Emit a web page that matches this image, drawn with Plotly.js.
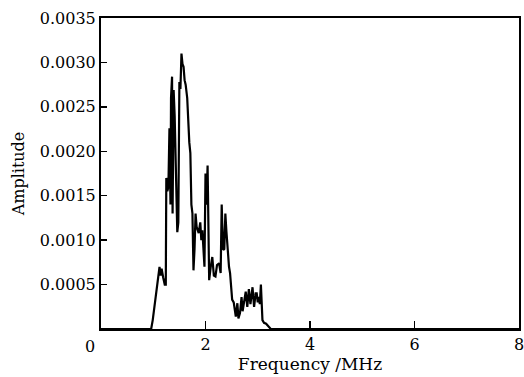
<!DOCTYPE html>
<html><head><meta charset="utf-8">
<script src="https://cdn.plot.ly/plotly-3.0.1.min.js"></script>
<style>html,body{margin:0;padding:0;background:#fff;}#chart{width:524px;height:377px;}</style>
</head><body><div id="chart"></div>
<script>
const freq = [0,0.96,0.99,1.03,1.07,1.10,1.12,1.14,1.16,1.19,1.22,1.24,1.25,1.27,1.29,1.31,1.33,1.34,1.36,1.37,1.39,1.41,1.44,1.46,1.48,1.50,1.52,1.54,1.56,1.58,1.60,1.62,1.65,1.67,1.69,1.71,1.73,1.75,1.77,1.79,1.81,1.83,1.85,1.87,1.90,1.92,1.94,1.96,1.98,2.00,2.02,2.04,2.06,2.07,2.10,2.13,2.16,2.19,2.22,2.26,2.29,2.31,2.32,2.34,2.36,2.38,2.40,2.42,2.45,2.47,2.51,2.54,2.58,2.61,2.63,2.66,2.69,2.71,2.74,2.77,2.80,2.83,2.86,2.90,2.93,2.96,2.98,3.00,3.02,3.04,3.06,3.08,3.09,3.12,3.16,3.19,3.22,3.25,8];
const amplitude = [0,0,0.0001,0.00028,0.00042,0.00055,0.0007,0.0006,0.00068,0.00058,0.0005,0.0005,0.0017,0.00155,0.0016,0.00226,0.0014,0.0026,0.00284,0.0013,0.00269,0.0024,0.0014,0.00109,0.0012,0.00278,0.0027,0.0031,0.00298,0.00295,0.0028,0.00275,0.0026,0.0023,0.0021,0.00198,0.0014,0.0013,0.00066,0.0009,0.0013,0.00115,0.0011,0.00108,0.0012,0.0010,0.00111,0.00085,0.0007,0.00175,0.0014,0.00184,0.0009,0.00055,0.0007,0.00081,0.0006,0.00059,0.00072,0.00074,0.00063,0.0014,0.0012,0.00089,0.0009,0.0013,0.0011,0.00089,0.0007,0.00063,0.00033,0.0003,0.00014,0.00029,0.00012,0.00018,0.00036,0.0002,0.00029,0.00042,0.00025,0.00045,0.00028,0.00047,0.00025,0.0004,0.0004,0.0003,0.00036,0.00028,0.0005,0.0003,0.0001,0.00007,0.00006,0.00004,0.00002,0,0];
const xTickVals = [2,4,6,8];
const xTickText = ["2","4","6","8"];
const yTickVals = [0.0005,0.0010,0.0015,0.0020,0.0025,0.0030,0.0035];
const yTickText = ["0.0005","0.0010","0.0015","0.0020","0.0025","0.0030","0.0035"];
const originLabel = "0";

const fontFam = "DejaVu Serif, serif";
Plotly.newPlot('chart', [{
  x: freq, y: amplitude, type: 'scatter', mode: 'lines',
  line: {color: '#000', width: 2.2}, hoverinfo: 'skip'
}], {
  width: 524, height: 377,
  margin: {l: 101, r: 5, t: 18, b: 48},
  paper_bgcolor: '#fff', plot_bgcolor: '#fff',
  showlegend: false,
  font: {family: fontFam, size: 16, color: '#000'},
  xaxis: {
    range: [0, 8], tickvals: xTickVals, ticktext: xTickText,
    ticks: 'inside', ticklen: 8, tickwidth: 1.5, tickcolor: '#000',
    showline: true, linewidth: 2, linecolor: '#000', mirror: true,
    showgrid: false, zeroline: false, ticklabeloverflow: 'allow',
    tickfont: {family: fontFam, size: 16},
    title: {text: 'Frequency /MHz', font: {family: fontFam, size: 17}, standoff: 4}
  },
  yaxis: {
    range: [0, 0.0035], tickvals: yTickVals, ticktext: yTickText,
    ticks: 'inside', ticklen: 6, tickwidth: 1.5, tickcolor: '#000',
    showline: true, linewidth: 2, linecolor: '#000', mirror: true,
    showgrid: false, zeroline: false,
    tickfont: {family: fontFam, size: 16},
    title: {text: 'Amplitude', font: {family: fontFam, size: 16}, standoff: 11}
  },
  annotations: [{
    text: originLabel, xref: 'paper', yref: 'paper', x: 0, y: 0,
    xanchor: 'center', yanchor: 'top', xshift: -11, yshift: -6,
    showarrow: false, font: {family: fontFam, size: 16, color: '#000'}
  }]
}, {staticPlot: true});
</script>
</body></html>
